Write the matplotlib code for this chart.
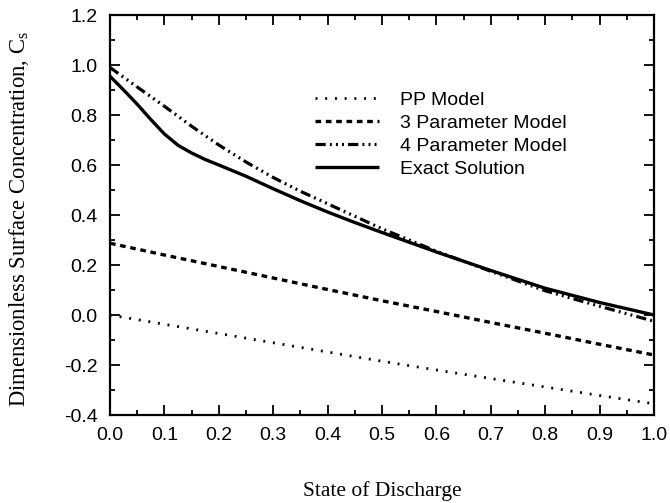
import matplotlib
matplotlib.use("Agg")
import matplotlib.pyplot as plt
from matplotlib.ticker import MultipleLocator, FormatStrFormatter

# Data
x_exact = [0.0, 0.025, 0.05, 0.075, 0.1, 0.125, 0.15, 0.175, 0.2, 0.25, 0.3, 0.35, 0.4, 0.45, 0.5,
           0.6, 0.7, 0.8, 0.9, 1.0]
exact = [0.955, 0.9, 0.843, 0.782, 0.724, 0.679, 0.648, 0.622, 0.6, 0.555, 0.505, 0.457, 0.412, 0.37, 0.33,
         0.252, 0.178, 0.107, 0.05, 0.0]

x_four = [0.0, 0.05, 0.1, 0.15, 0.2, 0.25, 0.3, 0.35, 0.4, 0.45, 0.5, 0.6, 0.7, 0.8, 0.9, 1.0]
four_param = [0.99, 0.912, 0.835, 0.755, 0.68, 0.612, 0.55, 0.495, 0.445, 0.395, 0.345, 0.255, 0.175, 0.097, 0.035, -0.025]

x_lin = [0.0, 0.1, 0.2, 0.3, 0.4, 0.5, 0.6, 0.7, 0.8, 0.9, 1.0]
three_param = [0.287, 0.24, 0.194, 0.148, 0.102, 0.057, 0.014, -0.03, -0.073, -0.117, -0.16]
pp_model = [0.0, -0.037, -0.074, -0.111, -0.148, -0.185, -0.22, -0.254, -0.288, -0.322, -0.355]

labels = ["PP Model", "3 Parameter Model", "4 Parameter Model", "Exact Solution"]

fig = plt.figure(figsize=(6.7, 5.03), dpi=100)
ax = fig.add_axes([110/670, 88/503, 544/670, 400/503])

sans = ["Liberation Sans", "DejaVu Sans"]
serif = ["Liberation Serif", "DejaVu Serif"]

l1, = ax.plot(x_lin, pp_model, color="black", lw=2.0, dashes=(0.7, 2.8), label=labels[0])
l2, = ax.plot(x_lin, three_param, color="black", lw=2.4, dashes=(1.7, 1.4), label=labels[1])
l3, = ax.plot(x_four, four_param, color="black", lw=2.3,
              dashes=(3.2, 1.3, 0.6, 1.3, 0.6, 1.3, 0.6, 1.3), label=labels[2])
l4, = ax.plot(x_exact, exact, color="black", lw=2.4, solid_capstyle="butt",
              solid_joinstyle="round", label=labels[3])

ax.set_xlim(0, 1.0)
ax.set_ylim(-0.4, 1.2)
ax.xaxis.set_major_locator(MultipleLocator(0.1))
ax.xaxis.set_minor_locator(MultipleLocator(0.05))
ax.yaxis.set_major_locator(MultipleLocator(0.2))
ax.yaxis.set_minor_locator(MultipleLocator(0.1))
ax.xaxis.set_major_formatter(FormatStrFormatter("%.1f"))
ax.yaxis.set_major_formatter(FormatStrFormatter("%.1f"))

ax.tick_params(which="both", direction="in", top=True, right=True, width=1.3)
ax.tick_params(which="major", length=7, pad=9, labelsize=14)
ax.tick_params(which="minor", length=3.5)
for lab in ax.get_xticklabels() + ax.get_yticklabels():
    lab.set_family(sans)
for s in ax.spines.values():
    s.set_linewidth(1.6)

ax.set_xlabel("State of Discharge", family=serif, fontsize=15.5)
ax.set_ylabel("Dimensionless Surface Concentration, C$_\\mathregular{s}$", family=serif, fontsize=16.3)
ax.xaxis.set_label_coords(0.5, -0.165)
ax.yaxis.set_label_coords(-0.145, 0.49)

leg = ax.legend(handles=[l1, l2, l3, l4], loc="upper left", bbox_to_anchor=(0.351, 0.843),
                frameon=False, prop={"family": sans, "size": 14},
                handlelength=3.3, handletextpad=1.1, labelspacing=0.27, borderpad=0.2)

fig.savefig("out.png", dpi=100)
